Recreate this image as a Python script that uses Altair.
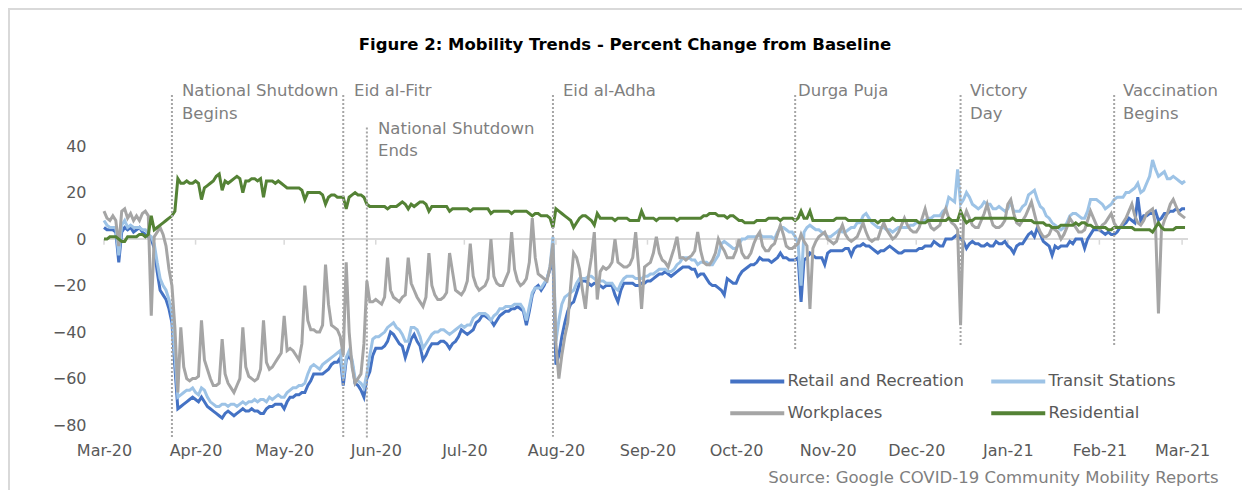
import altair as alt
import pandas as pd

START = "2020-03-01"

retail = [
    5, 4, 4, 4, 3, -10, 3, 5, 4, 5,
    3, 4, 5, 3, 2, 1, 0, -4, -14, -22,
    -24, -26, -30, -36, -55, -73, -72, -71, -70, -69,
    -68, -69, -70, -68, -70, -72, -73, -74, -75, -76,
    -77, -75, -74, -75, -76, -75, -74, -73, -74, -74,
    -73, -74, -74, -75, -75, -73, -72, -72, -71, -71,
    -71, -73, -70, -68, -68, -67, -67, -66, -66, -63,
    -61, -58, -58, -58, -58, -57, -56, -54, -53, -53,
    -51, -63, -52, -50, -53, -62, -63, -65, -68, -60,
    -57, -50, -47, -47, -47, -46, -44, -40, -41, -43,
    -45, -46, -51, -47, -43, -41, -44, -46, -52, -50,
    -47, -45, -45, -45, -44, -44, -45, -47, -45, -44,
    -42, -39, -40, -41, -40, -39, -36, -35, -33, -33,
    -34, -35, -37, -35, -33, -32, -31, -31, -30, -30,
    -29, -30, -31, -37, -31, -24, -21, -20, -22, -20,
    -17, -13, -8, -54, -50, -42, -36, -31, -28, -27,
    -23, -19, -18, -18, -19, -20, -19, -19, -20, -21,
    -20, -20, -20, -24, -27, -22, -19, -19, -19, -19,
    -20, -20, -19, -19, -18, -18, -17, -16, -15, -15,
    -14, -15, -16, -15, -14, -13, -12, -12, -12, -13,
    -13, -16, -15, -15, -17, -19, -20, -20, -21, -22,
    -24, -17, -18, -19, -19, -16, -14, -13, -12, -11,
    -11, -10, -8, -9, -9, -9, -10, -9, -8, -6,
    -8, -8, -9, -9, -9, -8, -27, -9, -8, -6,
    -7, -8, -8, -8, -11, -6, -5, -5, -5, -5,
    -5, -4, -4, -7, -4, -3, -3, -2, -3, -3,
    -4, -5, -6, -5, -5, -4, -3, -4, -5, -6,
    -6, -5, -5, -5, -5, -5, -4, -4, -3, -3,
    -3, -1, -2, -3, -3, 0, 0, 0, 1, 2,
    0, -1, -4, -2, -1, -2, -2, -3, -3, -2,
    -3, -3, -1, -2, -2, -1, -3, -4, -6, -3,
    -2, -2, 0, 2, 3, 1, 5, 2, -1, -2,
    -3, -7, -3, -4, -3, -3, -3, -1, -2, 0,
    0, 0, -4, 0, 2, 4, 4, 4, 3, 2,
    3, 2, 2, 3, 5, 6, 7, 9, 8, 7,
    18, 8, 10, 10, 11, 11, 12, 8, 9, 11,
    11, 12, 12, 13, 12, 13, 13,
]

transit = [
    8, 6, 5, 5, 5, -7, 6, 8, 5, 6,
    5, 5, 5, 4, 4, 2, 1, -2, -10, -17,
    -20, -22, -26, -32, -50, -68, -67, -66, -65, -65,
    -64, -66, -67, -64, -65, -68, -70, -71, -72, -72,
    -71, -71, -72, -71, -71, -72, -71, -70, -71, -70,
    -70, -69, -70, -69, -69, -70, -68, -69, -68, -67,
    -68, -68, -66, -65, -64, -64, -63, -63, -62, -58,
    -55, -54, -55, -56, -54, -53, -52, -51, -50, -49,
    -48, -60, -51, -48, -52, -60, -61, -62, -64, -58,
    -50, -43, -42, -42, -41, -40, -38, -37, -36, -38,
    -39, -41, -44, -44, -38, -38, -39, -42, -47, -45,
    -43, -41, -40, -40, -39, -39, -40, -41, -40, -39,
    -38, -37, -38, -37, -37, -34, -33, -32, -32, -32,
    -33, -35, -33, -32, -30, -30, -29, -29, -29, -28,
    -28, -28, -30, -35, -29, -23, -21, -21, -21, -19,
    -17, -12, 1, -44, -35, -28, -25, -24, -23, -22,
    -19, -17, -17, -17, -16, -16, -17, -18, -18, -18,
    -19, -19, -19, -21, -22, -19, -17, -16, -16, -16,
    -17, -17, -17, -16, -16, -15, -15, -14, -13, -13,
    -13, -14, -14, -13, -11, -10, -8, -8, -8, -9,
    -9, -11, -10, -10, -10, -11, -11, -9, -7, -2,
    -1, -2, -3, -4, -4, -2, 0, 0, 1, 1,
    1, 1, 2, 1, 1, 1, 1, 0, 3, 5,
    5, 4, 3, 3, 1, -2, -20, 3, 5, 6,
    5, 4, 4, 3, 2, 1, 1, 2, 3, 4,
    3, 3, 4, 5, 5, 7, 7, 10, 11, 9,
    7, 6, 5, 5, 5, 4, 4, 3, 4, 5,
    5, 5, 5, 6, 6, 7, 7, 8, 8, 9,
    9, 10, 10, 10, 12, 13, 18, 17, 16, 30,
    15, 17, 20, 18, 15, 14, 13, 14, 16, 15,
    15, 13, 13, 14, 13, 12, 13, 16, 12, 12,
    12, 14, 15, 19, 20, 21, 17, 14, 13, 10,
    9, 7, 6, 5, 4, 5, 7, 10, 11, 11,
    10, 9, 9, 12, 17, 17, 17, 16, 15, 13,
    14, 15, 17, 18, 18, 18, 20, 20, 21, 22,
    24, 20, 21, 24, 27, 34, 30, 27, 28, 29,
    26, 26, 27, 26, 25, 24, 25,
]

workplaces = [
    12, 9, 8, 10, 8, -3, 12, 13, 9, 11,
    8, 10, 8, 11, 12, 10, -33, 1, 3, 5,
    2, -3, -13, -20, -38, -66, -38, -55, -60, -61,
    -60, -60, -59, -35, -52, -56, -60, -63, -63, -62,
    -43, -58, -62, -64, -66, -63, -60, -38, -55, -59,
    -60, -61, -60, -56, -35, -53, -56, -55, -53, -51,
    -49, -33, -48, -47, -48, -50, -52, -45, -20, -35,
    -39, -39, -40, -40, -37, -11, -28, -37, -38, -39,
    -42, -50, -10, -40, -55, -62, -60, -58, -45, -18,
    -27, -27, -26, -27, -28, -25, -8, -22, -25, -26,
    -27, -25, -24, -8, -19, -22, -25, -27, -29, -25,
    -6, -20, -24, -26, -26, -25, -23, -6, -14, -22,
    -23, -24, -22, -18, -2, -16, -20, -22, -21, -20,
    -17, 0, -16, -19, -20, -20, -17, -14, 3, -13,
    -18, -20, -19, -17, -10, 9, -8, -15, -16, -17,
    -18, -12, -2, -45, -60, -50, -42, -36, -20, -6,
    -8, -13, -22, -30, -16, -8, 3, -26, -14, -12,
    -13, -12, -10, 0, -10, -11, -12, -12, -11, -8,
    3, -12, -30, -12, -11, -10, -6, 1, -6, -9,
    -10, -12, -8, -4, 1, -8, -8, -9, -8, -7,
    -5, 3, -5, -10, -11, -11, -9, -6, 0, -3,
    -5, -8, -8, -8, -5, 0, -6, -8, -8, -6,
    -2, 1, 3, -3, -5, -5, -3, -2, 2, 6,
    2, -3, -4, -4, -3, -2, 2, -1, -3, -30,
    -4, -1, 1, 2, 3, 0, -1, -2, -1, 3,
    6, 2, 0, -1, 0, 1, 4, 7, 3, 0,
    -1, 0, 0, 4, 7, 4, 2, 0, 1, 3,
    6, 9, 6, 4, 3, 3, 5, 9, 13, 8,
    5, 4, 5, 6, 10, 13, 9, 7, 6, 4,
    -37, 8, 12, 9, 6, 5, 5, 8, 11, 15,
    10, 6, 5, 5, 6, 8, 15, 17, 11, 7,
    6, 8, 10, 13, 16, 11, 6, 3, 1, 1,
    2, 5, 4, 3, 0, 2, 5, 9, 7, 5,
    3, 3, 4, 8, 12, 9, 6, 4, 6, 7,
    9, 11, 7, 5, 5, 7, 9, 12, 15, 10,
    7, 6, 8, 11, 12, 13, 6, -32, 4, 8,
    11, 15, 17, 14, 11, 10, 9,
]

residential = [
    0, 0, 1, 1, 1, 0, -1, -1, 1, 1,
    1, 1, 2, 2, 1, 2, 10, 4, 5, 6,
    7, 8, 9, 10, 12, 26, 24, 24, 25, 24,
    24, 25, 24, 17, 22, 23, 24, 25, 27, 28,
    21, 25, 24, 25, 26, 27, 26, 20, 25, 25,
    26, 26, 25, 26, 18, 25, 25, 25, 24, 25,
    24, 23, 22, 22, 22, 22, 22, 21, 17, 20,
    20, 20, 20, 20, 19, 15, 18, 19, 19, 18,
    18, 18, 13, 18, 19, 20, 19, 19, 18, 15,
    14, 14, 14, 14, 14, 14, 13, 14, 14, 14,
    15, 16, 15, 13, 15, 14, 15, 16, 16, 15,
    12, 14, 14, 14, 14, 14, 14, 12, 13, 13,
    13, 13, 13, 13, 12, 13, 13, 13, 13, 13,
    13, 11, 12, 12, 12, 12, 12, 12, 11, 12,
    12, 12, 12, 12, 11, 10, 11, 11, 10, 10,
    10, 9, 5, 13, 12, 11, 10, 9, 8, 5,
    7, 9, 10, 10, 9, 8, 6, 11, 9, 9,
    9, 9, 9, 8, 9, 9, 9, 9, 8, 8,
    8, 8, 12, 9, 9, 9, 9, 8, 9, 9,
    9, 9, 9, 9, 8, 9, 9, 9, 9, 9,
    9, 9, 9, 10, 10, 11, 11, 11, 10, 10,
    10, 9, 10, 10, 9, 8, 8, 7, 7, 7,
    7, 8, 8, 8, 8, 9, 9, 9, 9, 8,
    9, 9, 9, 9, 8, 9, 12, 9, 9, 12,
    8, 8, 8, 8, 8, 8, 8, 8, 9, 9,
    9, 9, 8, 8, 8, 8, 8, 8, 8, 8,
    8, 8, 7, 8, 8, 8, 8, 9, 8, 8,
    8, 8, 8, 8, 8, 8, 7, 7, 7, 8,
    8, 8, 8, 8, 8, 8, 9, 8, 8, 8,
    12, 9, 7, 8, 8, 9, 9, 9, 9, 9,
    9, 9, 9, 9, 9, 9, 9, 9, 9, 8,
    8, 8, 8, 8, 8, 7, 7, 7, 7, 6,
    6, 5, 5, 5, 6, 6, 6, 6, 6, 7,
    6, 7, 7, 6, 6, 5, 5, 5, 5, 5,
    4, 4, 5, 5, 5, 5, 5, 5, 5, 4,
    4, 4, 4, 4, 4, 3, 5, 7, 5, 4,
    4, 4, 4, 5, 5, 5, 5,
]

series_names = ["Retail and Recreation", "Transit Stations", "Workplaces", "Residential"]
series_colors = ["#4472C4", "#9DC3E6", "#A5A5A5", "#548235"]

month_ticks = [
    "2020-03-01", "2020-04-01", "2020-05-01", "2020-06-01", "2020-07-01",
    "2020-08-01", "2020-09-01", "2020-10-01", "2020-11-01", "2020-12-01",
    "2021-01-01", "2021-02-01", "2021-03-01",
]

# annotation lines and their labels
event_dates = ["2020-03-24", "2020-05-21", "2020-05-29", "2020-07-31",
               "2020-10-21", "2020-12-16", "2021-02-06"]
event_top = [62, 62, 48, 62, 62, 62, 62]
event_bottom = [-86, -86, -86, -85, -48, -46, -46]
event_labels = ["National Shutdown\nBegins", "Eid al-Fitr", "National Shutdown\nEnds",
                "Eid al-Adha", "Durga Puja", "Victory\nDay", "Vaccination\nBegins"]
label_dates = ["2020-03-27T10:00:00", "2020-05-24T15:00:00", "2020-06-01T18:00:00",
               "2020-08-03T09:00:00", "2020-10-21T23:00:00", "2020-12-19T04:00:00",
               "2021-02-08T23:00:00"]
label_y = [67, 67, 51, 67, 67, 67, 67]

TITLE = "Figure 2: Mobility Trends - Percent Change from Baseline"
SOURCE = "Source: Google COVID-19 Community Mobility Reports"

# ---------------------------------------------------------------
all_series = [retail, transit, workplaces, residential]
n = len(retail)
assert all(len(s) == n for s in all_series), [len(s) for s in all_series]
dates = pd.date_range(START, periods=n, freq="D").strftime("%Y-%m-%dT00:00:00")

rows = []
for name, vals in zip(series_names, all_series):
    for d, v in zip(dates, vals):
        rows.append({"date": d, "value": v, "series": name})
df = pd.DataFrame(rows)

tick_df = pd.DataFrame({"date": [m + "T00:00:00" for m in month_ticks],
                        "value": 0, "value2": -2.4})
zero_df = pd.DataFrame({"value": [0]})
ev_df = pd.DataFrame({"date": [e + "T00:00:00" for e in event_dates],
                      "value": event_top, "value2": event_bottom})
lab_df = pd.DataFrame({"date": label_dates, "value": label_y, "text": event_labels})

FONT = "DejaVu Sans"
LABEL_C = "#595959"

def dt(s):
    y, m, d = s.split("-")
    return alt.DateTime(year=int(y), month=int(m), date=int(d))

xscale = alt.Scale(domain=[dt("2020-03-01"), dt("2021-03-03")])
yscale = alt.Scale(domain=[-86, 68], nice=False, zero=False)

xaxis = alt.Axis(
    values=[dt(m) for m in month_ticks], format="%b-%y",
    labelFlush=False, labelOverlap=False, domain=False, ticks=False, grid=False,
    labelPadding=3, labelFont=FONT, labelFontSize=16, labelColor=LABEL_C,
    title=SOURCE, titleX=1114, titleY=43, titleAlign="right",
    titleBaseline="alphabetic", titleFont=FONT, titleFontSize=16.5,
    titleFontWeight="normal", titleColor="#7f7f7f",
)
yaxis = alt.Axis(
    values=[-80, -60, -40, -20, 0, 20, 40], domain=False, ticks=False, grid=False,
    labelPadding=18, labelFont=FONT, labelFontSize=16, labelColor=LABEL_C, title=None,
)

X = alt.X("date:T", scale=xscale, axis=xaxis)
Y = alt.Y("value:Q", scale=yscale, axis=yaxis)

color = alt.Color(
    "series:N",
    scale=alt.Scale(domain=series_names, range=series_colors),
    legend=alt.Legend(
        title=None, orient="none", legendX=625, legendY=292, columns=2,
        direction="horizontal",
        symbolType="M-5.4,0H5.4", symbolSize=100, symbolStrokeWidth=4,
        symbolOffset=20, labelOffset=22,
        labelFont=FONT, labelFontSize=16.5, labelColor=LABEL_C, labelLimit=400,
        columnPadding=19, rowPadding=15, padding=0,
    ),
)

frame = alt.Chart(zero_df).mark_rect(filled=False, stroke="#d9d9d9", strokeWidth=2).encode(
    x=alt.value(-95), x2=alt.value(1160), y=alt.value(-72), y2=alt.value(430)
)
zero = alt.Chart(zero_df).mark_rule(color="#d9d9d9", strokeWidth=2).encode(y=Y)
ticks = alt.Chart(tick_df).mark_rule(color="#d9d9d9", strokeWidth=1.5).encode(
    x=X, y=Y, y2="value2:Q")

lines = [
    alt.Chart(df).transform_filter(alt.datum.series == s)
    .mark_line(strokeWidth=3).encode(x=X, y=Y, color=color)
    for s in series_names
]

events = alt.Chart(ev_df).mark_rule(color="#a6a6a6", strokeWidth=2, strokeDash=[2, 2]).encode(
    x=X, y=Y, y2="value2:Q")
labels = alt.Chart(lab_df).mark_text(
    align="left", baseline="top", lineBreak="\n", lineHeight=22.5,
    font=FONT, fontSize=16.5, color="#7f7f7f",
).encode(x=X, y=Y, text="text:N")

chart = alt.layer(frame, zero, ticks, *lines, events, labels).properties(
    width=1084, height=358,
    title=alt.TitleParams(TITLE, font=FONT, fontSize=16.5, fontWeight="bold",
                          color="#000000", anchor="middle", dx=-21, dy=45, offset=0),
    autosize=alt.AutoSizeParams(type="none"),
    padding={"left": 96, "top": 73, "right": 54, "bottom": 52},
).configure_view(stroke=None)

chart.save("out.html", embed_options={"renderer": "svg", "actions": False})
